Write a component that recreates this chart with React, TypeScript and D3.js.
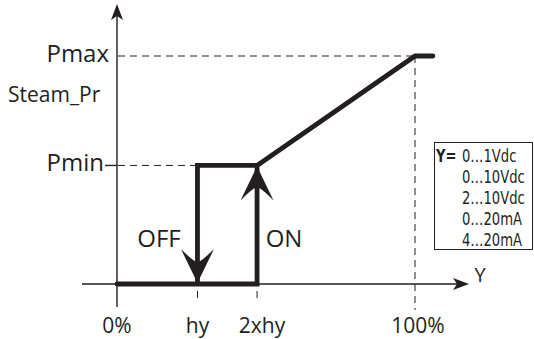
import React from "react";
import * as d3 from "d3";

// x positions (percent of Y signal)
const xTickLabels = ["0%", "hy", "2xhy", "100%"];
const xTickValues = [0, 27, 47, 100];
// y levels (steam production, % of full scale)
const yTickLabels = ["Pmax", "Pmin"];
const yTickValues = [100, 52];
// control curve: [Y %, production %]
const curveX = [0, 47, 47, 100, 106];
const curveY = [0, 0, 52, 100, 100];
// hysteresis branch (OFF)
const offX = [47, 27, 27];
const offY = [52, 52, 0];
const legendLines = ["0…1Vdc", "0…10Vdc", "2…10Vdc", "0…20mA", "4…20mA"];

const W = 534;
const H = 339;
const FONT = "'Open Sans', 'Noto Sans', sans-serif";
const NARROW = "'DejaVu Sans Condensed', 'Liberation Sans Narrow', sans-serif";
const INK = "#231f20";

export default function App() {
  const x = d3.scaleLinear().domain([0, 100]).range([117, 415]);
  const y = d3.scaleLinear().domain([0, 100]).range([284, 56]);
  const line = d3
    .line<[number, number]>()
    .x((d) => x(d[0]))
    .y((d) => y(d[1]));
  const curvePts = curveX.map((v, i) => [v, curveY[i]] as [number, number]);
  const offPts = offX.map((v, i) => [v, offY[i]] as [number, number]);

  const x0 = x(0);
  const y0 = y(0);
  const xHy = x(xTickValues[1]);
  const x2hy = x(xTickValues[2]);
  const x100 = x(100);
  const yMin = y(yTickValues[1]);
  const yMax = y(yTickValues[0]);

  const bigArrow = (tx: number, ty: number, dir: number) => {
    const h = 34 * dir;
    return `M${tx},${ty} L${tx - 16.5},${ty - h} Q${tx - 3},${ty - h * 0.6} ${tx},${ty - h * 0.62} Q${tx + 3},${ty - h * 0.6} ${tx + 16.5},${ty - h} Z`;
  };
  const smallArrow = (tx: number, ty: number, dx: number, dy: number) => {
    const L = 16;
    const w = 6;
    const bx = tx - dx * L;
    const by = ty - dy * L;
    const nx = -dy;
    const ny = dx;
    const ix = tx - dx * L * 0.75;
    const iy = ty - dy * L * 0.75;
    return `M${tx},${ty} L${bx + nx * w},${by + ny * w} L${ix},${iy} L${bx - nx * w},${by - ny * w} Z`;
  };

  const xLabelCenters = [0, 0, 5, 3];

  return (
    <svg
      width={W}
      height={H}
      style={{ position: "absolute", left: 0, top: 0, background: "#fff" }}
      fontFamily={FONT}
    >
      {/* dashed guides */}
      <g stroke={INK} strokeWidth={1} strokeDasharray="7,5" fill="none">
        <line x1={x0 + 1} y1={yMax} x2={x100} y2={yMax} />
        <line x1={x0 + 1} y1={yMin} x2={xHy} y2={yMin} />
        <line x1={x100} y1={yMax} x2={x100} y2={310} />
        <line x1={xHy} y1={291} x2={xHy} y2={300} />
        <line x1={x2hy} y1={291} x2={x2hy} y2={300} />
      </g>
      {/* axes */}
      <g stroke={INK} strokeWidth={1.4} fill="none">
        <line x1={x0} y1={307} x2={x0} y2={12} />
        <line x1={82} y1={y0} x2={462} y2={y0} />
        <line x1={x0 - 12} y1={yMin} x2={x0} y2={yMin} />
      </g>
      <path d={smallArrow(x0, 4, 0, -1)} fill={INK} />
      <path d={smallArrow(469, y0, 1, 0)} fill={INK} />

      {/* curve */}
      <path
        d={line(offPts) ?? ""}
        fill="none"
        stroke={INK}
        strokeWidth={4.8}
        strokeLinejoin="miter"
      />
      <path
        d={line(curvePts) ?? ""}
        fill="none"
        stroke={INK}
        strokeWidth={4.8}
        strokeLinejoin="miter"
        strokeLinecap="round"
      />
      <path d={bigArrow(xHy, y0 - 1, 1)} fill={INK} />
      <path d={bigArrow(x2hy, yMin + 1, -1)} fill={INK} />

      {/* y labels */}
      <g fill={INK} fontSize={24} textAnchor="end">
        <text x={109} y={yMax + 6}>
          {yTickLabels[0]}
        </text>
        <text x={104} y={yMin + 6}>
          {yTickLabels[1]}
        </text>
      </g>
      <text x={8} y={102} fontSize={21} fill={INK}>
        Steam_Pr
      </text>

      {/* x labels */}
      <g fill={INK} fontSize={21} textAnchor="middle">
        {xTickLabels.map((t, i) => (
          <text key={t} x={x(xTickValues[i]) + xLabelCenters[i]} y={333}>
            {t}
          </text>
        ))}
      </g>
      <text x={480} y={282} fontSize={20} fill={INK} textAnchor="middle">
        Y
      </text>
      <text x={159} y={247} fontSize={24} fill={INK} textAnchor="middle">
        OFF
      </text>
      <text x={284} y={247} fontSize={24} fill={INK} textAnchor="middle">
        ON
      </text>

      {/* legend box */}
      <rect
        x={434.5}
        y={142.5}
        width={98}
        height={107}
        fill="#fff"
        stroke={INK}
        strokeWidth={1}
      />
      <g fill={INK} fontSize={17} fontFamily={NARROW}>
        <text transform="translate(436,162) scale(0.86,1)" fontWeight={700}>
          Y=
        </text>
        {legendLines.map((t, i) => (
          <text key={t} transform={`translate(462,${162 + i * 21}) scale(0.86,1)`}>
            {t}
          </text>
        ))}
      </g>
    </svg>
  );
}
